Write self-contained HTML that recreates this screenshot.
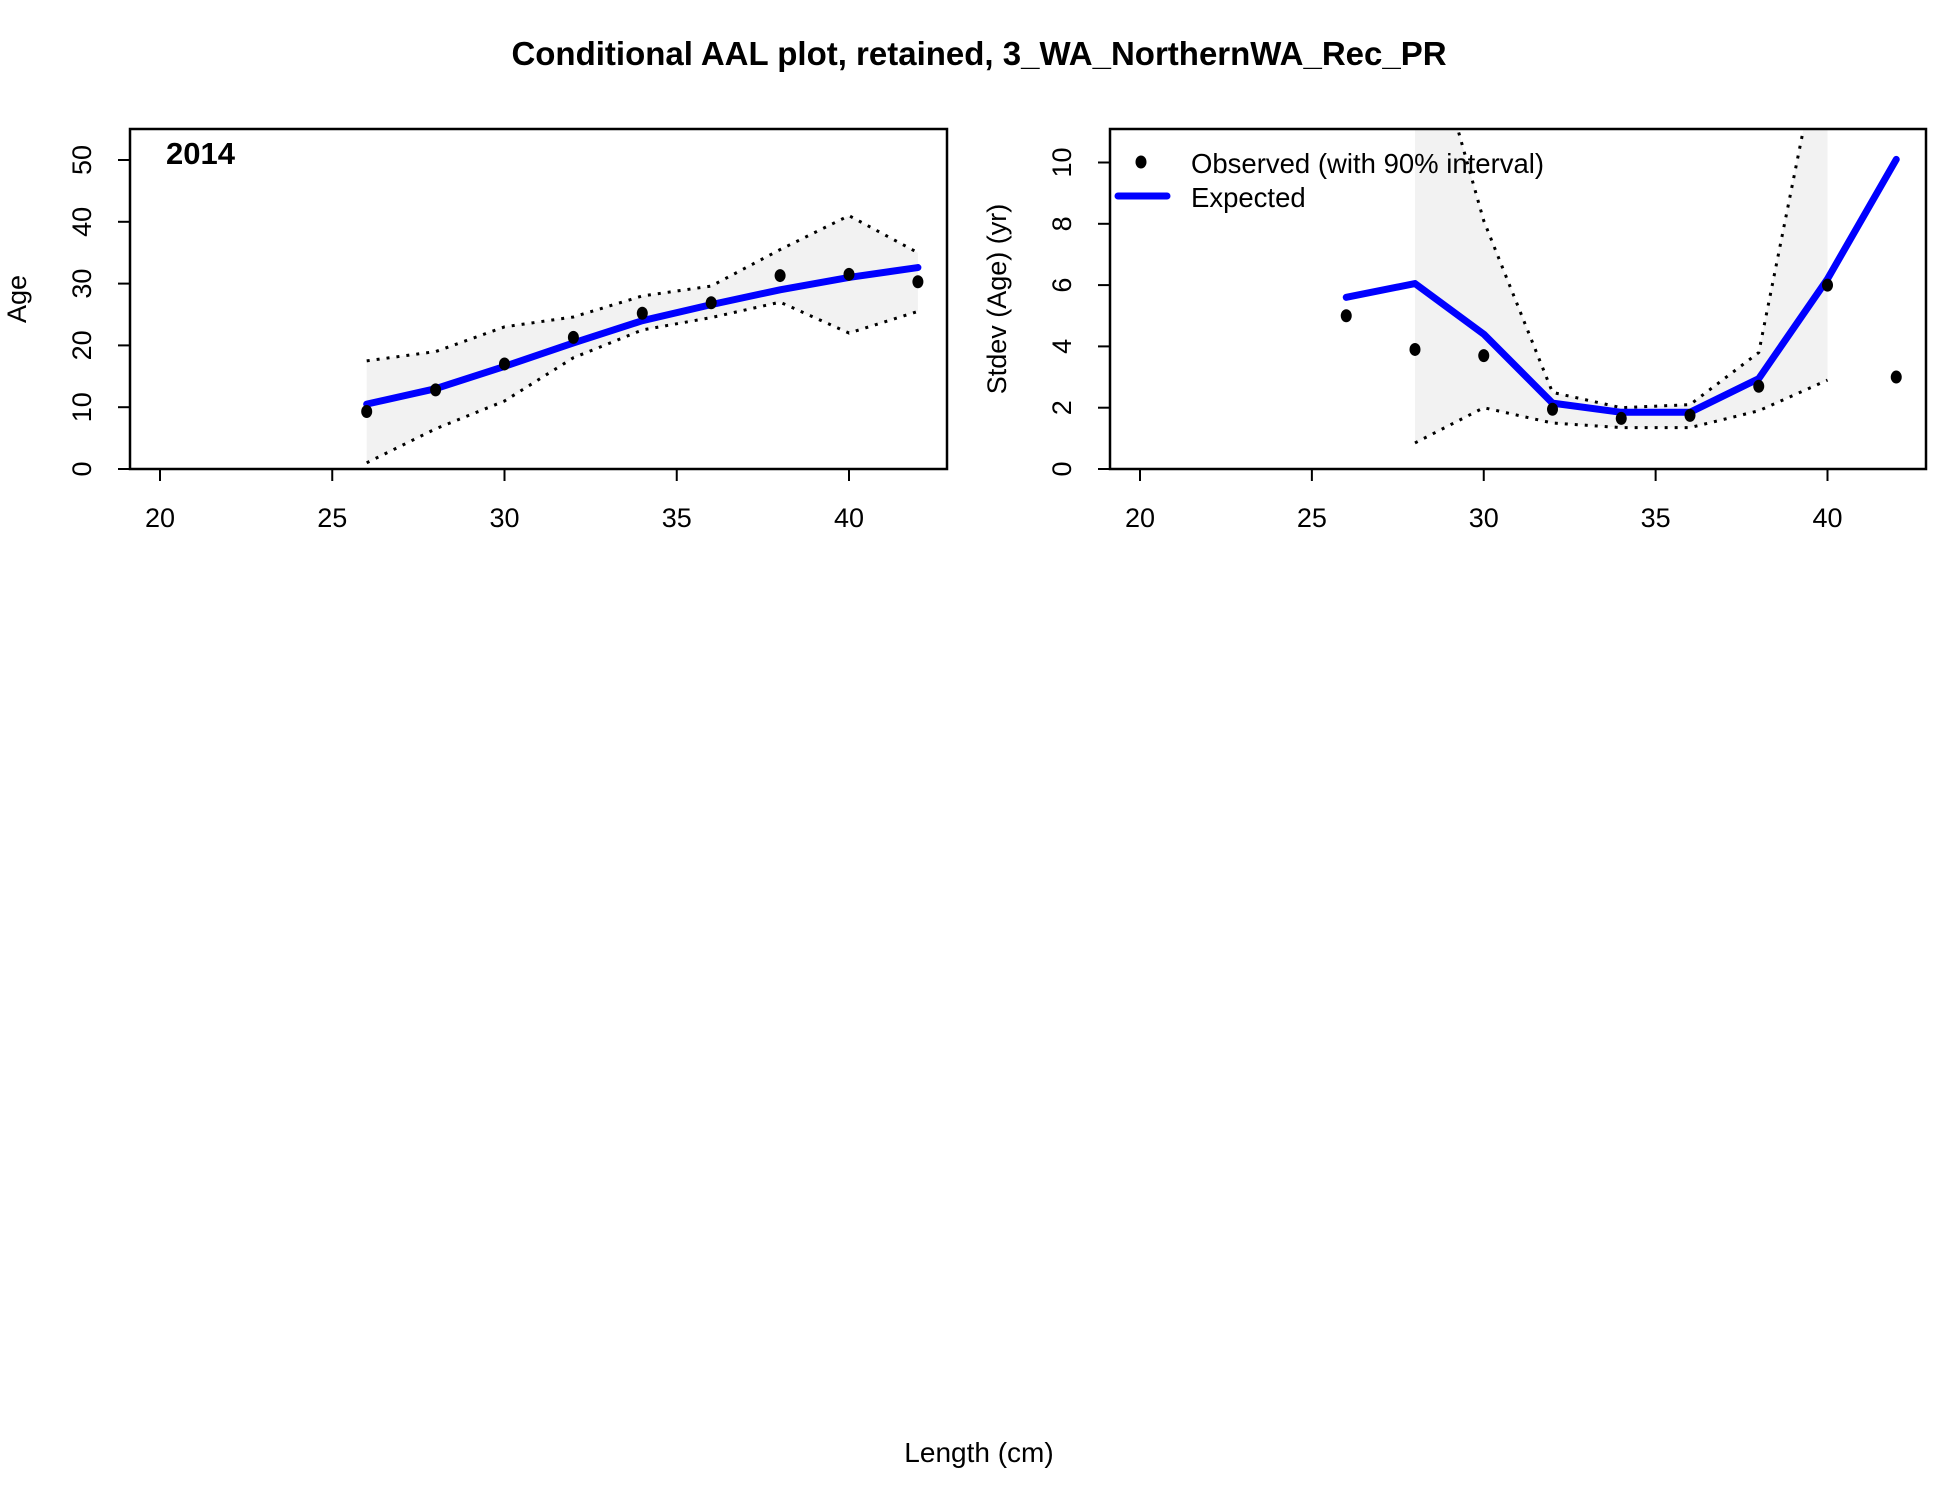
<!DOCTYPE html>
<html><head><meta charset="utf-8"><style>
html,body{margin:0;padding:0;background:#fff;}
svg{display:block;font-family:"Liberation Sans",Arial,sans-serif;}
</style></head><body>
<svg id="chart" width="1950" height="1500" viewBox="0 0 1950 1500">
<rect width="1950" height="1500" fill="#fff"/>
<text x="979" y="65" text-anchor="middle" font-size="33" font-weight="bold">Conditional AAL plot, retained, 3_WA_NorthernWA_Rec_PR</text>
<text x="979" y="1462" text-anchor="middle" font-size="28">Length (cm)</text>
<g id="left"></g>
<g id="right"></g>
</svg>
<script>
// shared x categories (length bins)
const lengths = [26, 28, 30, 32, 34, 36, 38, 40, 42];
const xTicks = [20, 25, 30, 35, 40];
// left panel: mean age
const ageExpected = [10.5, 13, 16.6, 20.4, 24, 26.6, 29, 31, 32.6];
const ageObserved = [9.3, 12.8, 17, 21.3, 25.2, 26.9, 31.3, 31.5, 30.3];
const ageUpper = [17.5, 19, 23, 24.6, 28, 29.6, 35.5, 41, 35];
const ageLower = [1, 6.5, 11, 18, 22.5, 24.5, 27, 22, 25.5];
const ageTicks = [0, 10, 20, 30, 40, 50];
// right panel: stdev of age
const sdExpected = [5.6, 6.05, 4.4, 2.15, 1.85, 1.85, 2.95, 6.2, 10.1];
const sdObserved = [5.0, 3.9, 3.7, 1.95, 1.65, 1.75, 2.7, 6.0, 3.0];
const sdBandLengths = [28, 30, 32, 34, 36, 38, 40];
const sdUpper = [16, 8.1, 2.5, 2.0, 2.1, 3.8, 15];
const sdLower = [0.85, 2.0, 1.5, 1.35, 1.35, 1.9, 2.9];
const sdTicks = [0, 2, 4, 6, 8, 10];

const NS = "http://www.w3.org/2000/svg";
function mk(parent, tag, attrs){const e=document.createElementNS(NS,tag);for(const k in attrs)e.setAttribute(k,attrs[k]);parent.appendChild(e);return e;}

function panel(g, box, x0px, x1px, yMax, yZeroPx, yMaxPx, id){
  const sx = v => x0px + (v-20)*(x1px-x0px)/20;
  const sy = v => yZeroPx - v*(yZeroPx-yMaxPx)/yMax;
  const defs = mk(g,'defs',{});
  const cp = mk(defs,'clipPath',{id:id});
  mk(cp,'rect',{x:box.l,y:box.t,width:box.r-box.l,height:box.b-box.t});
  return {sx, sy, clip:'url(#'+id+')'};
}
function axes(g, box, a, ticks, yTitle, yTitleX, yLabX){
  for(const t of xTicks){
    const tk=mk(g,'line',{x1:a.sx(t),x2:a.sx(t),y1:box.b,y2:box.b+12,stroke:'#000','stroke-width':2});
    
    
    const tl=mk(g,'text',{x:a.sx(t),y:527,'text-anchor':'middle','font-size':27});
    tl.textContent=t;
    
    
  }
  for(const t of ticks){
    const tk=mk(g,'line',{x1:box.l-12,x2:box.l,y1:a.sy(t),y2:a.sy(t),stroke:'#000','stroke-width':2});
    
    
    const tl=mk(g,'text',{x:yLabX,y:a.sy(t),'text-anchor':'middle','font-size':27,transform:`rotate(-90 ${yLabX} ${a.sy(t)})`});
    tl.textContent=t;
    
    
  }
  const mid=(box.t+box.b)/2;
  const yt=mk(g,'text',{x:yTitleX,y:mid,'text-anchor':'middle','font-size':27,transform:`rotate(-90 ${yTitleX} ${mid})`});
  yt.textContent=yTitle;
  
  
}
function band(g,a,xs,up,lo){
  const pts=xs.map((x,i)=>a.sx(x)+','+a.sy(up[i])).concat(xs.slice().reverse().map((x,i)=>a.sx(x)+','+a.sy(lo[xs.length-1-i])));
  const p=mk(g,'polygon',{points:pts.join(' '),fill:'#f2f2f2','clip-path':a.clip});
  
  
  for(const [arr,nm] of [[up,'upper-interval-line'],[lo,'lower-interval-line']]){
    const l=mk(g,'polyline',{points:xs.map((x,i)=>a.sx(x)+','+a.sy(arr[i])).join(' '),fill:'none',stroke:'#000','stroke-width':3,'stroke-dasharray':'3 7','clip-path':a.clip});
    
    
  }
}
function series(g,a,exp,obs){
  const l=mk(g,'polyline',{points:lengths.map((x,i)=>a.sx(x)+','+a.sy(exp[i])).join(' '),fill:'none',stroke:'#0000ff','stroke-width':7,'stroke-linejoin':'round','stroke-linecap':'round','clip-path':a.clip});
  
  
  lengths.forEach((x,i)=>{
    const c=mk(g,'ellipse',{cx:a.sx(x),cy:a.sy(obs[i]),rx:5.5,ry:6.5,fill:'#000'});
    
    
  });
}
function frame(g,box){
  const r=mk(g,'rect',{x:box.l,y:box.t,width:box.r-box.l,height:box.b-box.t,fill:'none',stroke:'#000','stroke-width':2.5});
  
  
}

// left panel
const gL=document.getElementById('left');
const boxL={l:130,r:947,t:129,b:469};
const aL=panel(gL,boxL,160,849,50,469,160,'clipL');
band(gL,aL,lengths,ageUpper,ageLower);
series(gL,aL,ageExpected,ageObserved);
frame(gL,boxL);
axes(gL,boxL,aL,ageTicks,'Age',26,91);
const yr=mk(gL,'text',{x:166,y:164,'font-size':31,'font-weight':'bold'});
yr.textContent='2014';



// right panel
const gR=document.getElementById('right');
const boxR={l:1110,r:1926,t:129,b:469};
const aR=panel(gR,boxR,1140,1827.5,10,469,162.5,'clipR');
band(gR,aR,sdBandLengths,sdUpper,sdLower);
series(gR,aR,sdExpected,sdObserved);
frame(gR,boxR);
axes(gR,boxR,aR,sdTicks,'Stdev (Age) (yr)',1006,1071);
// legend
const lg=mk(gR,'g',{});


const lp=mk(lg,'ellipse',{cx:1141,cy:162,rx:5.5,ry:6.5,fill:'#000'});


const lt1=mk(lg,'text',{x:1191,y:173,'font-size':27.5});
lt1.textContent='Observed (with 90% interval)';


const ll=mk(lg,'line',{x1:1118,x2:1167,y1:196,y2:196,stroke:'#0000ff','stroke-width':7,'stroke-linecap':'round'});


const lt2=mk(lg,'text',{x:1191,y:207,'font-size':27.5});
lt2.textContent='Expected';


</script>
</body></html>
